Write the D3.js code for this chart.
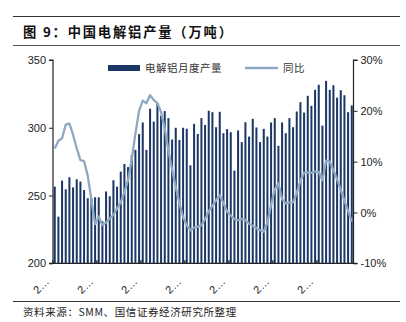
<!DOCTYPE html>
<html><head><meta charset="utf-8">
<script src="https://cdn.jsdelivr.net/npm/d3@7"></script>
<style>body{margin:0;background:#fff}svg{display:block}</style>
</head><body>
<svg id="c" width="406" height="322"></svg>
<script>
const months = [
"2015-01","2015-02","2015-03","2015-04","2015-05","2015-06","2015-07","2015-08","2015-09","2015-10","2015-11","2015-12",
"2016-01","2016-02","2016-03","2016-04","2016-05","2016-06","2016-07","2016-08","2016-09","2016-10","2016-11","2016-12",
"2017-01","2017-02","2017-03","2017-04","2017-05","2017-06","2017-07","2017-08","2017-09","2017-10","2017-11","2017-12",
"2018-01","2018-02","2018-03","2018-04","2018-05","2018-06","2018-07","2018-08","2018-09","2018-10","2018-11","2018-12",
"2019-01","2019-02","2019-03","2019-04","2019-05","2019-06","2019-07","2019-08","2019-09","2019-10","2019-11","2019-12",
"2020-01","2020-02","2020-03","2020-04","2020-05","2020-06","2020-07","2020-08","2020-09","2020-10","2020-11","2020-12",
"2021-01","2021-02","2021-03","2021-04","2021-05","2021-06","2021-07","2021-08","2021-09","2021-10"];
const output = [
256.6,234.4,261.0,254.6,263.5,256.0,262.0,260.3,254.0,248.0,248.0,248.7,
248.7,231.0,253.0,249.5,261.3,256.6,267.7,273.3,271.0,280.0,283.7,295.3,
303.9,283.7,314.0,304.6,318.0,309.0,312.3,307.1,291.3,300.0,291.0,300.0,
299.3,272.3,302.9,295.4,307.1,302.1,312.6,311.5,300.4,311.8,296.0,299.0,
296.7,268.4,298.0,289.4,304.1,293.5,306.6,300.2,289.4,299.2,293.5,303.9,
307.1,286.7,303.9,296.0,307.1,300.4,312.0,318.9,311.2,323.6,316.2,328.0,
331.7,301.6,334.6,328.0,331.4,322.2,327.7,324.0,311.5,316.5];
const yoy = [
12.6,14.1,14.6,17.3,17.5,15.3,12.6,10.3,10.1,7.2,2.5,-2.3,
-0.8,-2.5,-2.0,-1.2,-0.5,0.8,2.0,4.0,6.4,10.5,15.5,20.0,
22.0,21.5,23.1,22.1,21.5,19.8,16.5,12.2,8.5,5.0,1.8,-0.9,
-2.5,-3.5,-3.0,-2.8,-2.5,-1.3,0.2,1.3,2.4,3.4,1.8,0.2,
-0.6,-1.3,-1.5,-1.3,-1.5,-2.2,-2.6,-3.1,-3.5,-3.8,-2.0,1.5,
4.5,5.7,2.6,1.8,2.0,2.0,3.8,6.3,7.8,7.9,7.8,8.1,
8.0,6.3,10.2,10.0,8.3,6.5,4.5,2.3,0.3,-1.8];
const yearTicks = ["2015-01","2016-01","2017-01","2018-01","2019-01","2020-01","2021-01"];
const tickText = ["2…","2…","2…","2…","2…","2…","2…"];
const leftTicks = [200,250,300,350];
const rightTicks = [-10,0,10,20,30];
const seriesNames = ["电解铝月度产量","同比"];
const title = "图 9：中国电解铝产量（万吨）";
const source = "资料来源：SMM、国信证券经济研究所整理";

const svg = d3.select("#c");
const L = 53, R = 353.5, T = 60, B = 263.3;
const barColor = "#1b3765", lineColor = "#8fa9c2";
const cjk = "'Noto Sans CJK SC', sans-serif";
const lat = "'Liberation Sans', Arial, sans-serif";

svg.append("rect").attr("width",406).attr("height",322).attr("fill","#fff");

// header rules and title
svg.append("line").attr("x1",13).attr("x2",400).attr("y1",16.5).attr("y2",16.5).attr("stroke","#333").attr("stroke-width",1);
svg.append("text").attr("x",23).attr("y",37).attr("font-family",cjk).attr("font-weight","bold")
  .attr("font-size",13.3).attr("letter-spacing",1.8).attr("fill","#111").text(title);
svg.append("line").attr("x1",13).attr("x2",400).attr("y1",45.5).attr("y2",45.5).attr("stroke","#555").attr("stroke-width",1);

const x = d3.scaleBand().domain(months).range([L,R]).paddingInner(0.45).paddingOuter(0.2);
const yL = d3.scaleLinear().domain([200,350]).range([B,T]);
const yR = d3.scaleLinear().domain([-10,30]).range([B,T]);

// bars
svg.append("g").selectAll("rect").data(months).join("rect")
  .attr("x",d=>x(d)).attr("width",x.bandwidth())
  .attr("y",(d,i)=>yL(output[i])).attr("height",(d,i)=>B-yL(output[i]))
  .attr("fill",barColor);

// line
const line = d3.line().x((d,i)=>x(months[i])+x.bandwidth()/2).y(d=>yR(d));
svg.append("path").datum(yoy).attr("d",line).attr("fill","none")
  .attr("stroke",lineColor).attr("stroke-width",2.3).attr("stroke-linejoin","round");

// axes
const gL = svg.append("g").attr("transform",`translate(${L},0)`)
  .call(d3.axisLeft(yL).tickValues(leftTicks).tickSize(4).tickPadding(3));
const gR = svg.append("g").attr("transform",`translate(${R},0)`)
  .call(d3.axisRight(yR).tickValues(rightTicks).tickSize(4).tickPadding(3).tickFormat(d=>d+"%"));
[gL,gR].forEach(g=>{
  g.select(".domain").attr("stroke","#222").attr("stroke-width",1.2);
  g.selectAll(".tick line").attr("stroke","#222");
  g.selectAll("text").attr("font-family",lat).attr("font-size",11).attr("fill","#222");
});
gL.select(".domain").attr("d",`M-4,${T}H0V${B}H-4`);
gR.select(".domain").attr("d",`M4,${T}H0V${B}H4`);

const xStep = x.step();
const gx = svg.append("g").attr("transform",`translate(0,${B})`)
  .call(d3.axisBottom(x).tickValues(yearTicks).tickSize(0).tickFormat((d,i)=>tickText[i]));
gx.select(".domain").attr("d",`M${L},0H${R}`).attr("stroke","#222").attr("stroke-width",1.2);
gx.selectAll(".tick").attr("transform",d=>`translate(${x(d)-xStep*x.paddingInner()/2},0)`);
gx.selectAll(".tick").append("line").attr("y1",0).attr("y2",-3).attr("stroke","#333").attr("stroke-width",1.5);
gx.selectAll(".tick text").attr("font-family",lat).attr("font-size",11).attr("fill","#222")
  .attr("text-anchor","end").attr("dy",0).attr("y",0)
  .attr("transform","translate(-3,19) rotate(-45)");

// legend
svg.append("rect").attr("x",108).attr("y",65).attr("width",32).attr("height",6).attr("fill",barColor);
svg.append("text").attr("x",145).attr("y",72).attr("font-family",cjk).attr("font-size",10.5)
  .attr("letter-spacing",0.5).attr("fill","#333").text(seriesNames[0]);
svg.append("line").attr("x1",245).attr("x2",278).attr("y1",68).attr("y2",68)
  .attr("stroke",lineColor).attr("stroke-width",2.3);
svg.append("text").attr("x",283).attr("y",72).attr("font-family",cjk).attr("font-size",10.5)
  .attr("letter-spacing",0.5).attr("fill","#333").text(seriesNames[1]);

// footer
svg.append("line").attr("x1",13).attr("x2",400).attr("y1",301.5).attr("y2",301.5).attr("stroke","#333").attr("stroke-width",1);
svg.append("text").attr("x",23).attr("y",315.5).attr("font-family",cjk).attr("font-size",10.5)
  .attr("letter-spacing",0.6).attr("fill","#222").text(source);
</script>
</body></html>
